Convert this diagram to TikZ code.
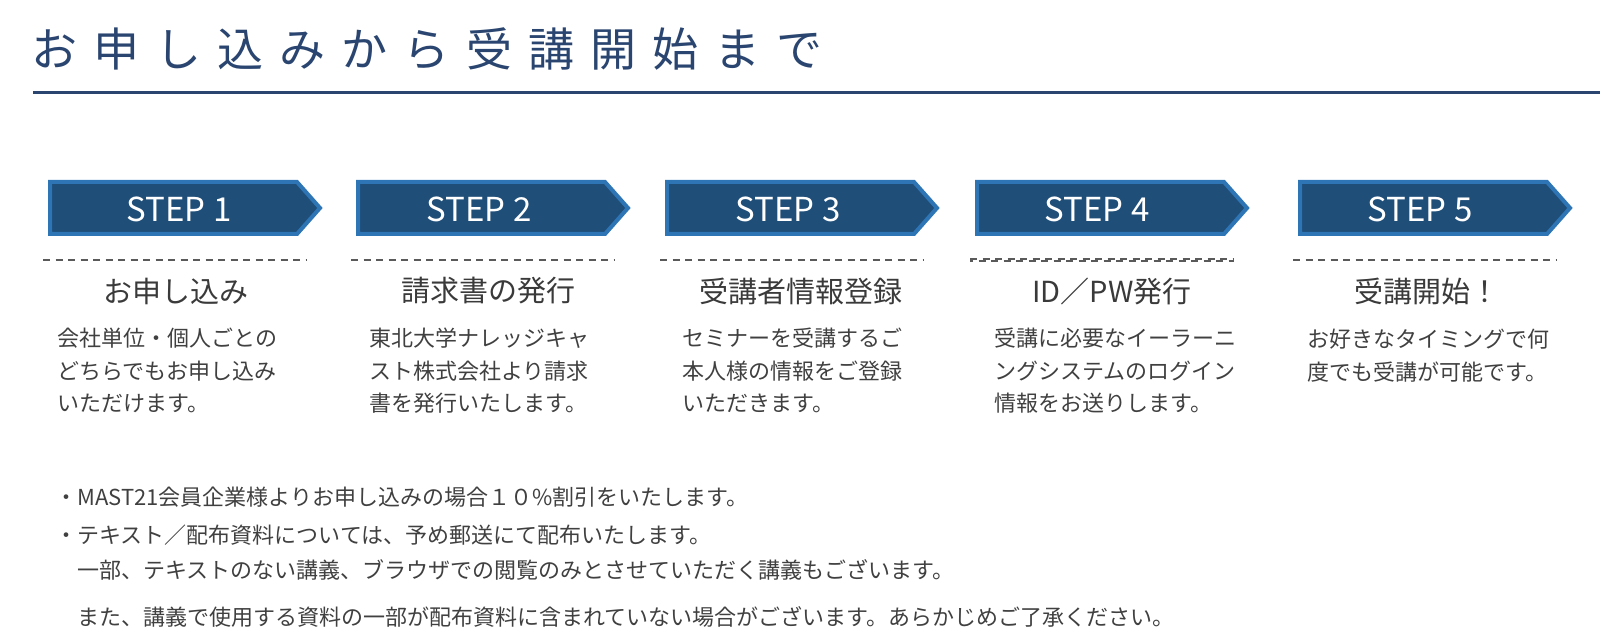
\documentclass[tikz,border=0pt]{standalone}
\usepackage{fontspec}
\setmainfont{Noto Sans CJK JP}
\definecolor{titleblue}{HTML}{2A4570}
\definecolor{stepfill}{HTML}{1F4E79}
\definecolor{stepedge}{HTML}{2E75B6}
\definecolor{dashgray}{HTML}{5A5A5A}
\definecolor{headgray}{HTML}{3A3A3A}
\definecolor{bodygray}{HTML}{404040}
\tikzset{
  stepbox/.style={fill=stepfill, draw=stepedge, line width=2pt, line join=miter},
  steplabel/.style={text=white, font=\fontsize{16.5}{20}\selectfont, inner sep=0},
  dashline/.style={draw=dashgray, line width=0.7pt, dash pattern=on 3.5pt off 2.75pt},
  heading/.style={text=headgray, font=\fontsize{14.5}{17}\selectfont, inner sep=0},
  bodytext/.style={text=bodygray, font=\fontsize{11}{16.25}\selectfont, align=left, inner sep=0, anchor=base west},
  notetext/.style={text=bodygray, font=\fontsize{11}{13}\selectfont, inner sep=0, anchor=base west},
}
\begin{document}
\begin{tikzpicture}[x=0.5pt,y=-0.5pt]
\useasboundingbox (0,0) rectangle (1600,641);
% title
\node[anchor=west, inner sep=0, text=titleblue, font=\fontsize{23}{23}\selectfont\addfontfeature{LetterSpace=35}] (title) at (31,49) {お申し込みから受講開始まで};
\draw[titleblue, line width=1.5pt] (33,93) -- (1600,93);
% step arrows
\draw[stepbox] (50,182) -- (297,182) -- (320,208) -- (297,234) -- (50,234) -- cycle;
\draw[stepbox] (358,182) -- (605,182) -- (628,208) -- (605,234) -- (358,234) -- cycle;
\draw[stepbox] (667,182) -- (914,182) -- (937,208) -- (914,234) -- (667,234) -- cycle;
\draw[stepbox] (977,182) -- (1224,182) -- (1247,208) -- (1224,234) -- (977,234) -- cycle;
\draw[stepbox] (1300,182) -- (1547,182) -- (1570,208) -- (1547,234) -- (1300,234) -- cycle;
\node[steplabel] (s1) at (179,209) {STEP 1};
\node[steplabel] (s2) at (479,209) {STEP 2};
\node[steplabel] (s3) at (788,209) {STEP 3};
\node[steplabel] (s4) at (1097,209) {STEP 4};
\node[steplabel] (s5) at (1420,209) {STEP 5};
% dashed separators
\draw[dashline] (43,260) -- (307,260);
\draw[dashline] (351,260) -- (615,260);
\draw[dashline] (660,260) -- (924,260);
\draw[dashline] (970,259) -- (1234,259);
\draw[dashline, dash phase=2pt] (970,261) -- (1234,261);
\draw[dashline] (1293,260) -- (1557,260);
% headings
\node[heading] (h1) at (176,291) {お申し込み};
\node[heading] (h2) at (488,291) {請求書の発行};
\node[heading] (h3) at (801,291) {受講者情報登録};
\node[heading] (h4) at (1112,291) {ID／PW発行};
\node[heading] (h5) at (1427,291) {受講開始！};
% bodies (anchor = baseline of last line)
\node[bodytext] (b1) at (57,412) {会社単位・個人ごとの\\どちらでもお申し込み\\いただけます。};
\node[bodytext] (b2) at (369,412) {東北大学ナレッジキャ\\スト株式会社より請求\\書を発行いたします。};
\node[bodytext] (b3) at (682,412) {セミナーを受講するご\\本人様の情報をご登録\\いただきます。};
\node[bodytext] (b4) at (994,412) {受講に必要なイーラーニ\\ングシステムのログイン\\情報をお送りします。};
\node[bodytext] (b5) at (1307,380) {お好きなタイミングで何\\度でも受講が可能です。};
% notes
\node[notetext] (n1) at (55,505) {・MAST21会員企業様よりお申し込みの場合１０\%割引をいたします。};
\node[notetext] (n2) at (55,543) {・テキスト／配布資料については、予め郵送にて配布いたします。};
\node[notetext] (n3) at (77,578) {一部、テキストのない講義、ブラウザでの閲覧のみとさせていただく講義もございます。};
\node[notetext] (n4) at (77,625) {また、講義で使用する資料の一部が配布資料に含まれていない場合がございます。あらかじめご了承ください。};
\end{tikzpicture}
\end{document}
